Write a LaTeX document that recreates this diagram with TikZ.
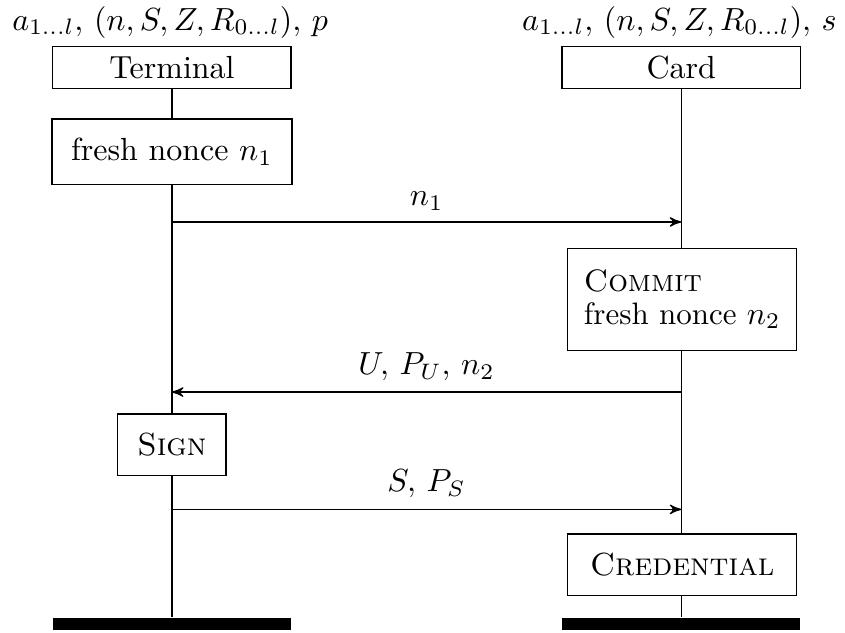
\documentclass[tikz,border=0pt]{standalone}
\usepackage{amsmath}
\usetikzlibrary{arrows,calc}

\tikzset{
  inst/.style={draw, minimum width=2.62cm, minimum height=0.46cm, inner sep=0pt},
  action/.style={draw, fill=white, inner sep=6pt, align=left},
  msg/.style={->, >=stealth'},
  stopbar/.style={fill=black, minimum width=2.62cm, minimum height=0.13cm, inner sep=0pt}
}

\begin{document}
\begin{tikzpicture}
  \useasboundingbox (0,0) rectangle (9.29,-6.95);
  % instances
  \node[anchor=base] (tkeys) at (1.87,-0.33) {$a_{1\ldots l},\, (n,S,Z,R_{0\ldots l}),\, p$};
  \node[anchor=base] (ckeys) at (7.47,-0.33) {$a_{1\ldots l},\, (n,S,Z,R_{0\ldots l}),\, s$};
  \node[inst] (term) at (1.89,-0.74) {Terminal};
  \node[inst] (card) at (7.49,-0.74) {Card};

  % actions
  \node[action, minimum width=2.58cm, minimum height=0.71cm, align=center] (fresh) at (1.89,-1.67) {fresh nonce $n_1$};
  \node[action, inner sep=4pt, minimum width=2.52cm, minimum height=1.12cm,
        font=\fontsize{9.7pt}{10.2pt}\selectfont] (commit) at (7.5,-3.29) {\textsc{Commit}\\fresh nonce $n_2$};
  \node[action, minimum width=1.19cm, minimum height=0.62cm] (sign) at (1.89,-4.89) {\textsc{Sign}};
  \node[action, minimum width=2.52cm, minimum height=0.62cm] (cred) at (7.5,-6.21) {\textsc{Credential}};

  % ends
  \node[stopbar] (tend) at (1.89,-6.86) {};
  \node[stopbar] (cend) at (7.49,-6.86) {};

  % lifelines
  \draw (term) -- (fresh);
  \draw (fresh) -- (sign);
  \draw (sign) -- (sign |- tend.north);
  \draw (card) -- (card |- commit.north);
  \draw (card |- commit.south) -- (card |- cred.north);
  \draw (card |- cred.south) -- (cend);

  % messages
  \coordinate (t1) at (1.89,-2.44);
  \coordinate (c1) at (7.49,-2.44);
  \coordinate (t2) at (1.89,-4.31);
  \coordinate (c2) at (7.49,-4.31);
  \coordinate (t3) at (1.89,-5.60);
  \coordinate (c3) at (7.49,-5.60);
  \draw[msg] (t1) -- node[above]{$n_1$} (c1);
  \draw[msg] (c2) -- node[above]{$U,\, P_U,\, n_2$} (t2);
  \draw[msg] (t3) -- node[above]{$S,\, P_S$} (c3);
\end{tikzpicture}
\end{document}
